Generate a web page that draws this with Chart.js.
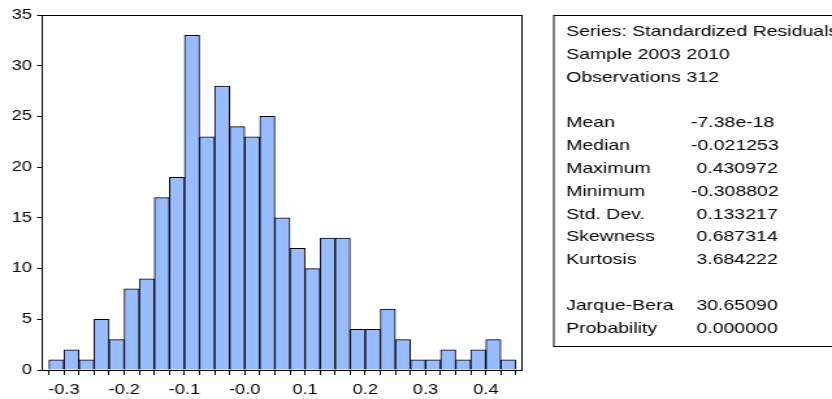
<!DOCTYPE html>
<html>
<head>
<meta charset="utf-8">
<script src="https://cdn.jsdelivr.net/npm/chart.js@4.4.1/dist/chart.umd.min.js"></script>
<style>
  html, body { margin: 0; padding: 0; background: #fff; overflow: hidden; }
  /* the reference is a 640 wide graph stretched to 832 */
  #wrap { position: absolute; left: 0; top: 0; width: 640px; height: 399px;
          transform: scaleX(1.3); transform-origin: 0 0; }
</style>
</head>
<body>
<div id="wrap"><canvas id="chart"></canvas></div>
<script>
const binWidth = 0.025;
const binLow = [-0.325, -0.300, -0.275, -0.250, -0.225, -0.200, -0.175, -0.150,
                -0.125, -0.100, -0.075, -0.050, -0.025, 0.000, 0.025, 0.050,
                0.075, 0.100, 0.125, 0.150, 0.175, 0.200, 0.225, 0.250,
                0.275, 0.300, 0.325, 0.350, 0.375, 0.400, 0.425];
const counts = [1, 2, 1, 5, 3, 8, 9, 17, 19, 33, 23, 28, 24, 23, 25, 15,
                12, 10, 13, 13, 4, 4, 6, 3, 1, 1, 2, 1, 2, 3, 1];

const headerLines = ["Series: Standardized Residuals", "Sample 2003 2010", "Observations 312"];
const statLabels = ["Mean", "Median", "Maximum", "Minimum", "Std. Dev.", "Skewness", "Kurtosis"];
const statValues = ["-7.38e-18", "-0.021253", " 0.430972", "-0.308802", " 0.133217", " 0.687314", " 3.684222"];
const testLabels = ["Jarque-Bera", "Probability"];
const testValues = [" 30.65090", " 0.000000"];

const FONT = "'Liberation Sans', Arial, sans-serif";

// frame round the plot + the statistics box on the right
const framePlugin = {
  id: "frame",
  afterDatasetsDraw(chart) {
    const { ctx, chartArea: a } = chart;
    ctx.save();
    ctx.strokeStyle = "#000";
    ctx.lineWidth = 1;
    ctx.strokeRect(a.left, a.top + 0.5, a.right - a.left, a.bottom - a.top);
    ctx.restore();
  },
  afterDraw(chart) {
    const ctx = chart.ctx;
    const boxLeft = 426, boxTop = 15.5, boxBottom = 346.5;
    ctx.save();
    ctx.strokeStyle = "#000";
    ctx.lineWidth = 1;
    ctx.strokeRect(boxLeft, boxTop, 300, boxBottom - boxTop);
    ctx.fillStyle = "#000";
    ctx.font = "15px " + FONT;
    ctx.textBaseline = "middle";
    const rowY = i => 32 + i * 22.8;
    const xLab = 435.5, xVal = 531.5;
    headerLines.forEach((t, i) => ctx.fillText(t, xLab, rowY(i)));
    statLabels.forEach((t, i) => {
      ctx.fillText(t, xLab, rowY(i + 4));
      ctx.fillText(statValues[i], xVal, rowY(i + 4));
    });
    testLabels.forEach((t, i) => {
      ctx.fillText(t, xLab, rowY(i + 12));
      ctx.fillText(testValues[i], xVal, rowY(i + 12));
    });
    ctx.restore();
  }
};

new Chart(document.getElementById("chart"), {
  type: "bar",
  data: {
    datasets: [{
      data: binLow.map((lo, i) => ({ x: lo + binWidth / 2, y: counts[i] })),
      backgroundColor: "#99bbff",
      borderColor: "#000",
      borderWidth: 1,
      barPercentage: 1,
      categoryPercentage: 1
    }]
  },
  options: {
    responsive: true,
    maintainAspectRatio: false,
    animation: false,
    layout: { padding: { top: 15, right: 238.5, left: 0, bottom: 0 } },
    plugins: { legend: { display: false }, tooltip: { enabled: false } },
    scales: {
      x: {
        type: "linear",
        offset: false,
        min: -0.336,
        max: 0.46,
        border: { display: false },
        grid: { offset: false, drawOnChartArea: false, drawTicks: true, tickLength: 5, color: "#000" },
        ticks: {
          stepSize: binWidth,
          includeBounds: false,
          autoSkip: false,
          maxRotation: 0,
          padding: 7,
          color: "#000",
          font: { size: 14, family: FONT },
          callback: v => {
            const k = Math.round(v / binWidth);
            if (k % 4 !== 0) return "";
            return k === 0 ? "-0.0" : (k * binWidth).toFixed(1);
          }
        },
        afterFit: s => { s.height = 29; }
      },
      y: {
        min: 0,
        max: 35,
        border: { display: false },
        grid: { drawOnChartArea: false, drawTicks: true, tickLength: 4, color: "#000" },
        ticks: { stepSize: 5, padding: 4, color: "#000", font: { size: 14, family: FONT } },
        afterFit: s => { s.width = 32.5; }
      }
    }
  },
  plugins: [framePlugin]
});
</script>
</body>
</html>
